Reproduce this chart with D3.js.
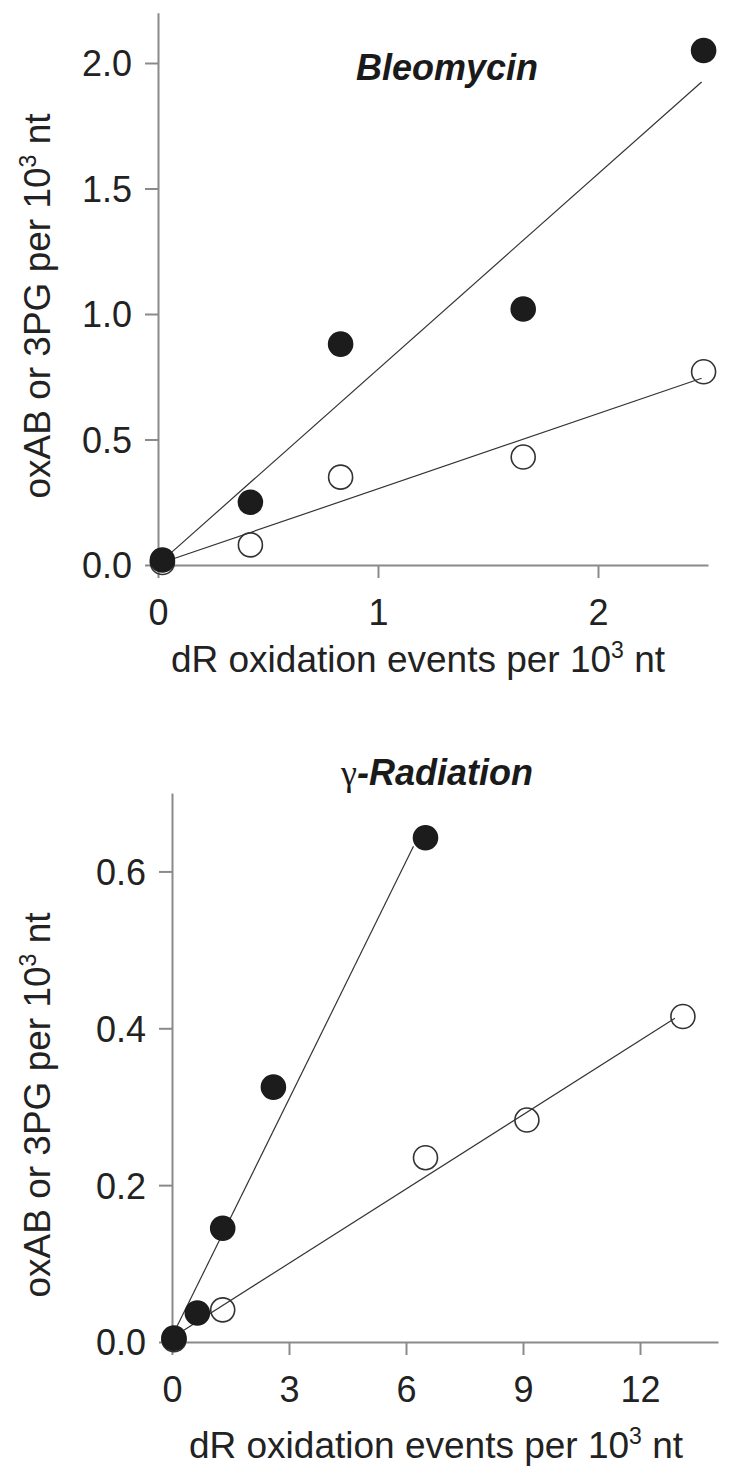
<!DOCTYPE html>
<html><head><meta charset="utf-8">
<script src="https://cdn.jsdelivr.net/npm/d3@7"></script>
<style>body{margin:0;background:#fff} svg{display:block}</style>
</head><body><svg id="c" width="734" height="1477"></svg>
<script>
// ---- Data ----
const bleoX = [0.02, 0.42, 0.83, 1.66, 2.48];
const bleoFilled = [0.02, 0.25, 0.88, 1.02, 2.05];   // filled circles
const bleoOpen = [0.01, 0.08, 0.35, 0.43, 0.77];     // open circles
const bleoXTicks = [0, 1, 2];
const bleoYTicks = [0, 0.5, 1.0, 1.5, 2.0];

const gammaFilledX = [0.05, 0.65, 1.3, 2.6, 6.5];
const gammaFilled = [0.005, 0.037, 0.145, 0.325, 0.643];
const gammaOpenX = [0.05, 1.3, 6.5, 9.1, 13.1];
const gammaOpen = [0.003, 0.041, 0.235, 0.283, 0.415];
const gammaXTicks = [0, 3, 6, 9, 12];
const gammaYTicks = [0, 0.2, 0.4, 0.6];

const xTitle = "dR oxidation events per 10";
const yTitle = "oxAB or 3PG per 10";

const svg = d3.select("#c");
const FONT = "'Liberation Sans', Arial, Helvetica, sans-serif";
const AXC = "#8a8a8a";

function fit(xs, ys) {
  const mx = d3.mean(xs), my = d3.mean(ys);
  let sxy = 0, sxx = 0;
  xs.forEach((x, i) => { sxy += (x - mx) * (ys[i] - my); sxx += (x - mx) * (x - mx); });
  const b = sxy / sxx;
  return { b, a: my - b * mx };
}

function supText(sel, base) {
  sel.append("tspan").text(base);
  sel.append("tspan").text("3").attr("font-size", 23).attr("dy", -14);
  sel.append("tspan").text(" nt").attr("dy", 14);
}

function panel(cfg) {
  const g = svg.append("g");
  const x = d3.scaleLinear().domain(cfg.xDomain).range(cfg.xRange);
  const y = d3.scaleLinear().domain(cfg.yDomain).range(cfg.yRange);

  // axes
  const ax = g.append("g").attr("transform", `translate(0,${y(0)})`)
    .call(d3.axisBottom(x).tickValues(cfg.xTicks).tickSize(13).tickSizeOuter(0).tickFormat(d3.format("d")));
  const ay = g.append("g").attr("transform", `translate(${x(0)},0)`)
    .call(d3.axisLeft(y).tickValues(cfg.yTicks).tickSize(13).tickSizeOuter(0).tickFormat(d3.format(".1f")));
  [ax, ay].forEach(a => {
    a.select(".domain").attr("stroke", AXC).attr("stroke-width", 2);
    a.selectAll(".tick line").attr("stroke", AXC).attr("stroke-width", 2);
    a.selectAll(".tick text").attr("fill", "#222").attr("font-family", FONT).attr("font-size", 36);
  });
  ax.selectAll(".tick text").attr("y", cfg.xLabelOff).attr("dy", null);
  ay.selectAll(".tick text").attr("x", -26).attr("dy", "0.36em");

  // regression lines (end just short of the last point)
  const lineGen = d3.line().x(d => x(d[0])).y(d => y(d[1]));
  cfg.series.forEach(s => {
    const f = fit(s.x, s.y);
    const x1 = x.invert(x(d3.max(s.x)) - s.trim);
    g.append("path").attr("d", lineGen([[0, f.a], [x1, f.a + f.b * x1]]))
      .attr("stroke", "#333").attr("stroke-width", 1.2).attr("fill", "none");
  });
  // points: open first, filled on top
  cfg.series.slice().reverse().forEach(s => {
    g.selectAll(null).data(s.x.map((v, i) => [v, s.y[i]])).join("circle")
      .attr("cx", d => x(d[0])).attr("cy", d => y(d[1])).attr("r", 12)
      .attr("fill", s.filled ? "#1c1c1c" : "none")
      .attr("stroke", s.filled ? "#1c1c1c" : "#333").attr("stroke-width", 1.6);
  });

  // axis titles
  const xt = g.append("text").attr("x", cfg.xTitlePos[0]).attr("y", cfg.xTitlePos[1])
    .attr("text-anchor", "middle").attr("font-family", FONT).attr("font-size", 37).attr("fill", "#222");
  supText(xt, xTitle);
  const yt = g.append("text").attr("transform", `translate(${cfg.yTitlePos[0]},${cfg.yTitlePos[1]}) rotate(-90)`)
    .attr("text-anchor", "middle").attr("font-family", FONT).attr("font-size", 37).attr("fill", "#222");
  supText(yt, yTitle);

  // panel title
  const tt = g.append("text").attr("x", cfg.titlePos[0]).attr("y", cfg.titlePos[1])
    .attr("text-anchor", "middle").attr("font-family", FONT).attr("font-size", 36).attr("fill", "#1a1a1a");
  if (cfg.greek) {
    tt.append("tspan").text(cfg.greek).attr("font-family", "'Liberation Serif', 'DejaVu Serif', serif").attr("font-weight", "normal");
  }
  tt.append("tspan").text(cfg.title).attr("font-weight", "bold").attr("font-style", "italic");
}

panel({
  xDomain: [0, 2.5], xRange: [158, 708],
  yDomain: [0, 2.2], yRange: [565, 12.8],
  xTicks: bleoXTicks, yTicks: bleoYTicks,
  xLabelOff: 60,
  series: [
    { x: bleoX, y: bleoFilled, filled: true, trim: 2 },
    { x: bleoX, y: bleoOpen, filled: false, trim: 2 }
  ],
  xTitlePos: [418, 672], yTitlePos: [50, 306],
  titlePos: [447, 80], title: "Bleomycin"
});

panel({
  xDomain: [0, 14], xRange: [172, 718],
  yDomain: [0, 0.7], yRange: [1342, 793],
  xTicks: gammaXTicks, yTicks: gammaYTicks,
  xLabelOff: 60,
  series: [
    { x: gammaFilledX, y: gammaFilled, filled: true, trim: 12 },
    { x: gammaOpenX, y: gammaOpen, filled: false, trim: 8 }
  ],
  xTitlePos: [436, 1458], yTitlePos: [50, 1105],
  titlePos: [437, 785], greek: "γ", title: "-Radiation"
});
</script></body></html>
